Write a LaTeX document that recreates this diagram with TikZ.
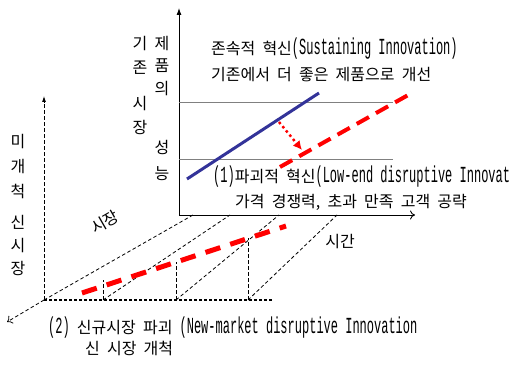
\documentclass[tikz,border=0pt]{standalone}
\usepackage{fontspec}
\setmainfont[WordSpace=2]{Noto Sans CJK KR}
\newfontfamily\latfont[FakeStretch=0.522]{Liberation Mono}
\newcommand\en[1]{{\latfont\fontsize{23}{23}\selectfont #1}}
\usetikzlibrary{arrows.meta,positioning}
\definecolor{sustblue}{RGB}{51,51,153}

\begin{document}
\begin{tikzpicture}[x=1pt,y=-1pt,>=Latex,
 lbl/.style={inner sep=0pt,font=\fontsize{16}{20}\selectfont},
 vlbl/.style={inner sep=0pt,align=center,font=\fontsize{16}{#1}\selectfont},
 axis/.style={draw=black,line width=0.9pt},
 guide/.style={draw=black,line width=0.8pt,dash pattern=on 3.5pt off 2.5pt},
 base/.style={draw=black,line width=1.3pt,dash pattern=on 3pt off 2pt},
 level/.style={draw=gray,line width=1pt},
 sustain/.style={draw=sustblue,line width=3pt},
 disrupt/.style={draw=red,line width=4pt,dash pattern=on 14pt off 8pt}]
\useasboundingbox (0,0) rectangle (520,374);
% existing market: performance over time
\coordinate (o) at (179,215);
\coordinate (ytop) at (179,8);
\coordinate (xend) at (415,215);
\draw[axis,-{Latex[length=7pt,width=5pt]}] (o) -- (ytop);
\draw[axis,-{To[length=5pt,width=9pt]}] (o) -- (xend);
\coordinate (hiL) at (179,103); \coordinate (hiR) at (393,103);
\coordinate (loL) at (179,160); \coordinate (loR) at (393,160);
\draw[level] (hiL) -- (hiR); \draw[level] (loL) -- (loR);
\coordinate (sA) at (187,179); \coordinate (sB) at (319,93);
\draw[sustain] (sA) -- (sB);
\coordinate (dA) at (280,167); \coordinate (dB) at (410,94);
\draw[disrupt] (dA) -- (dB);
\coordinate (jA) at (279,122); \coordinate (jB) at (302,150);
\draw[red,line width=2.5pt,dash pattern=on 2.5pt off 3pt,
 -{Latex[length=9pt,width=9pt]}] (jA) -- (jB);
% new market plane
\coordinate (n) at (44,300);
\coordinate (ntop) at (44,96);
\coordinate (nout) at (7,322);
\coordinate (nend) at (272,300);
\draw[guide,-{Latex[length=6pt,width=4pt]}] (n) -- (ntop);
\draw[guide,-{To[length=5pt,width=9pt]}] (n) -- (nout);
\draw[base] (n) -- (nend);
\coordinate (p1) at (103,300); \coordinate (q1) at (103,280);
\coordinate (p2) at (176,300); \coordinate (q2) at (176,262);
\coordinate (p3) at (248,300); \coordinate (q3) at (248,238);
\draw[guide] (p1) -- (q1); \draw[guide] (p2) -- (q2); \draw[guide] (p3) -- (q3);
\coordinate (r0) at (193,215); \coordinate (r1) at (230,215);
\coordinate (r2) at (279,215); \coordinate (r3) at (337,215);
\draw[guide] (n) -- (r0); \draw[guide] (p1) -- (r1);
\draw[guide] (p2) -- (r2); \draw[guide] (p3) -- (r3);
\coordinate (mA) at (82,293); \coordinate (mB) at (286,226);
\draw[draw=red,line width=5pt,dash pattern=on 15.5pt off 10.5pt] (mA) -- (mB);
% labels
\node[vlbl=24] (old1) at (140,55) {기\\존};
\node[vlbl=24] (old2) at (140,115) {시\\장};
\node[vlbl=22.5] (perf1) at (162,66) {제\\품\\의};
\node[vlbl=26] (perf2) at (162,160) {성\\능};
\node[vlbl=25] (new1) at (18,167) {미\\개\\척};
\node[vlbl=23] (new2) at (18,246) {신\\시\\장};
\node[lbl,anchor=base west] (sust1) at (211,55) {존속적 혁신\en{(Sustaining Innovation)}};
\node[lbl,anchor=base west] (sust2) at (211,81) {기존에서 더 좋은 제품으로 개선};
\node[lbl,anchor=base west] (low1) at (213,183) {\en{(1)}파괴적 혁신\en{(Low-end disruptive Innovat}};
\node[lbl,anchor=base west] (low2) at (235,208) {가격 경쟁력, 초과 만족 고객 공략};
\node[lbl] (time) at (340,242) {시간};
\node[lbl,rotate=30] (market) at (105,222) {시장};
\node[lbl,anchor=base west] (nm1) at (48,334) {\en{(2)} 신규시장 파괴 \en{(New-market disruptive Innovation}};
\node[lbl,anchor=base west] (nm2) at (85,355) {신 시장 개척};
\end{tikzpicture}
\end{document}
